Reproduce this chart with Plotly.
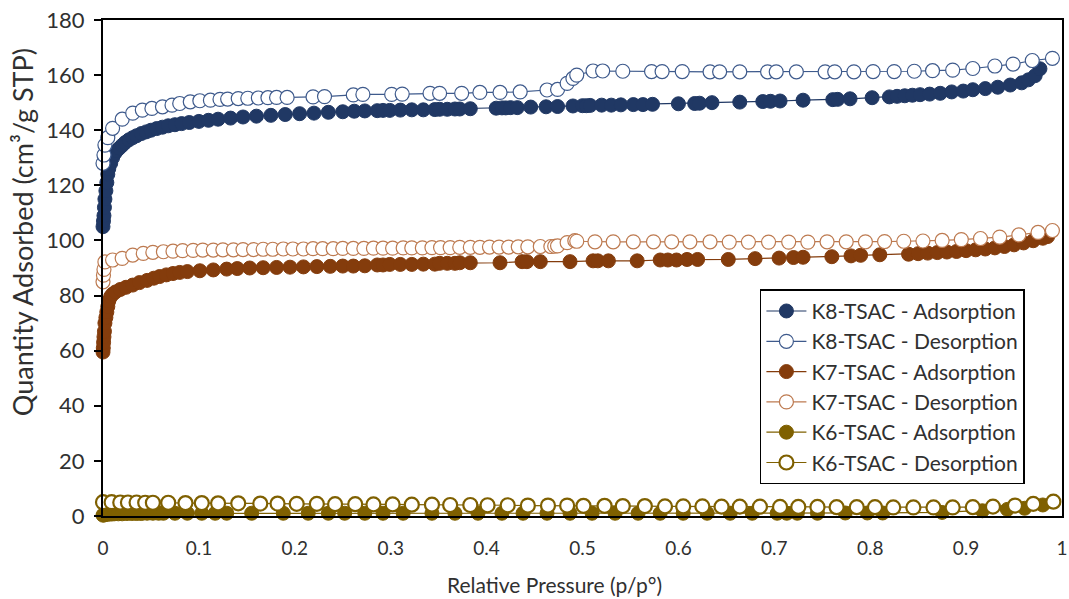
import plotly.graph_objects as go

# ---------------- data ----------------
k8_ads_x = [0.000, 0.0005, 0.001, 0.0015, 0.002, 0.003, 0.004, 0.005, 0.006, 0.008,
            0.010, 0.012, 0.014, 0.017, 0.020, 0.023, 0.027, 0.031, 0.035, 0.040,
            0.045, 0.050, 0.056, 0.062, 0.068, 0.075, 0.082, 0.090, 0.100, 0.110,
            0.120, 0.133, 0.146, 0.160, 0.175, 0.190, 0.205, 0.220, 0.235, 0.250,
            0.262, 0.273, 0.286, 0.292, 0.299, 0.310, 0.322, 0.334, 0.346, 0.351,
            0.359, 0.367, 0.372, 0.383, 0.410, 0.416, 0.420, 0.425, 0.432, 0.446,
            0.462, 0.474, 0.490, 0.500, 0.504, 0.508, 0.520, 0.530, 0.540, 0.553,
            0.563, 0.573, 0.600, 0.617, 0.622, 0.635, 0.664, 0.688, 0.696, 0.706,
            0.730, 0.761, 0.766, 0.779, 0.802, 0.820, 0.828, 0.836, 0.844, 0.852,
            0.862, 0.873, 0.885, 0.897, 0.907, 0.920, 0.933, 0.946, 0.958, 0.965,
            0.972, 0.977]
k8_ads_y = [105, 107, 109, 112, 115, 118, 121, 124, 126, 128,
            130, 131.5, 132.5, 133.5, 134.5, 135.5, 136.5, 137.3, 138, 138.8,
            139.4, 140, 140.6, 141.1, 141.6, 142, 142.4, 142.8, 143.2, 143.6,
            144, 144.4, 144.8, 145.1, 145.4, 145.7, 146, 146.2, 146.5, 146.7,
            146.9, 147, 147.1, 147.2, 147.2, 147.3, 147.4, 147.4, 147.5, 147.6,
            147.6, 147.7, 147.7, 147.8, 148.0, 148.1, 148.1, 148.2, 148.2, 148.4,
            148.5, 148.6, 148.8, 148.9, 148.9, 149.0, 149.1, 149.1, 149.2, 149.3,
            149.3, 149.4, 149.6, 149.7, 149.8, 150.0, 150.2, 150.4, 150.5, 150.6,
            150.9, 151.1, 151.2, 151.4, 151.8, 152.1, 152.3, 152.5, 152.7, 152.9,
            153.1, 153.4, 153.9, 154.2, 154.7, 155.1, 155.6, 156.4, 157.2, 158.3,
            159.8, 162.3]

k8_des_x = [0.000, 0.001, 0.002, 0.005, 0.010, 0.020, 0.031, 0.041, 0.051, 0.062,
            0.072, 0.080, 0.091, 0.101, 0.112, 0.122, 0.130, 0.141, 0.151, 0.162,
            0.172, 0.181, 0.192, 0.219, 0.231, 0.261, 0.271, 0.301, 0.312, 0.341,
            0.351, 0.374, 0.393, 0.414, 0.435, 0.463, 0.474, 0.484, 0.490, 0.494,
            0.511, 0.521, 0.542, 0.572, 0.583, 0.604, 0.633, 0.643, 0.664, 0.693,
            0.702, 0.723, 0.753, 0.763, 0.783, 0.803, 0.825, 0.846, 0.865, 0.886,
            0.907, 0.930, 0.949, 0.969, 0.990]
k8_des_y = [128, 131, 134.6, 137.3, 140.7, 144, 146.2, 147.3, 147.9, 148.5,
            149.1, 149.7, 150.3, 150.7, 150.9, 151.2, 151.3, 151.5, 151.6, 151.7,
            151.8, 151.9, 151.9, 152.1, 152.2, 152.8, 153.0, 153.0, 153.1, 153.4,
            153.4, 153.4, 153.7, 153.7, 153.9, 154.6, 154.8, 157.0, 158.8, 160.0,
            161.5, 161.5, 161.4, 161.3, 161.3, 161.3, 161.2, 161.2, 161.2, 161.2,
            161.2, 161.2, 161.2, 161.2, 161.2, 161.3, 161.3, 161.4, 161.6, 161.8,
            162.4, 163.3, 164.0, 165.3, 166.1]

k7_ads_x = [0.000, 0.0003, 0.0006, 0.001, 0.0015, 0.002, 0.003, 0.004, 0.005, 0.006,
            0.008, 0.010, 0.013, 0.018, 0.024, 0.031, 0.038, 0.046, 0.053, 0.059,
            0.066, 0.073, 0.080, 0.088, 0.101, 0.115, 0.129, 0.140, 0.153, 0.167,
            0.181, 0.195, 0.209, 0.223, 0.237, 0.250, 0.261, 0.273, 0.286, 0.292,
            0.299, 0.310, 0.322, 0.334, 0.346, 0.351, 0.359, 0.367, 0.372, 0.383,
            0.414, 0.437, 0.442, 0.456, 0.487, 0.511, 0.516, 0.527, 0.557, 0.581,
            0.589, 0.598, 0.609, 0.620, 0.652, 0.680, 0.705, 0.720, 0.730, 0.760,
            0.780, 0.790, 0.810, 0.840, 0.850, 0.860, 0.870, 0.880, 0.890, 0.900,
            0.910, 0.920, 0.930, 0.940, 0.950, 0.960, 0.970, 0.980, 0.985]
k7_ads_y = [59.5, 61, 63, 65, 67, 70, 72, 74, 76, 78,
            79.6, 80.5, 81.3, 82.2, 83.0, 83.8, 84.7, 85.5, 86.3, 86.9,
            87.5, 88.0, 88.4, 88.7, 89.0, 89.3, 89.6, 89.8, 90.0, 90.1,
            90.2, 90.3, 90.4, 90.5, 90.6, 90.7, 90.7, 90.8, 91.1, 91.1,
            91.3, 91.3, 91.3, 91.4, 91.4, 91.7, 91.7, 91.7, 91.9, 91.9,
            91.9, 92.3, 92.3, 92.3, 92.3, 92.6, 92.6, 92.6, 92.6, 92.9,
            92.9, 92.9, 93.1, 93.1, 93.1, 93.4, 93.6, 93.8, 93.9, 94.1,
            94.4, 94.6, 94.8, 95.0, 95.2, 95.4, 95.6, 95.8, 96.0, 96.3,
            96.6, 96.9, 97.3, 97.8, 98.4, 99.1, 99.9, 100.8, 101.4]

k7_des_x = [0.000, 0.0005, 0.001, 0.002, 0.010, 0.020, 0.031, 0.042, 0.052, 0.063,
            0.073, 0.083, 0.094, 0.104, 0.115, 0.125, 0.136, 0.146, 0.157, 0.167,
            0.177, 0.188, 0.198, 0.209, 0.219, 0.229, 0.240, 0.250, 0.261, 0.272,
            0.282, 0.292, 0.302, 0.313, 0.322, 0.333, 0.343, 0.352, 0.362, 0.372,
            0.383, 0.393, 0.403, 0.413, 0.423, 0.433, 0.443, 0.456, 0.467, 0.471,
            0.474, 0.484, 0.492, 0.494, 0.513, 0.532, 0.553, 0.574, 0.593, 0.612,
            0.633, 0.653, 0.673, 0.694, 0.715, 0.735, 0.755, 0.775, 0.795, 0.815,
            0.835, 0.855, 0.875, 0.895, 0.915, 0.935, 0.955, 0.975, 0.990]
k7_des_y = [85.0, 87.4, 89.5, 92.2, 92.9, 93.5, 94.7, 95.3, 95.7, 95.9,
            96.1, 96.3, 96.4, 96.5, 96.5, 96.6, 96.6, 96.7, 96.7, 96.8,
            96.8, 96.9, 96.9, 96.9, 97.0, 97.0, 97.0, 97.1, 97.1, 97.1,
            97.2, 97.2, 97.2, 97.3, 97.3, 97.3, 97.4, 97.4, 97.4, 97.5,
            97.5, 97.5, 97.6, 97.6, 97.6, 97.7, 97.7, 97.8, 97.8, 97.9,
            98.0, 99.2, 99.9, 99.7, 99.5, 99.5, 99.5, 99.5, 99.5, 99.5,
            99.5, 99.4, 99.4, 99.4, 99.4, 99.4, 99.5, 99.5, 99.5, 99.6,
            99.7, 99.8, 100.0, 100.3, 100.7, 101.2, 102.0, 102.9, 103.6]

k6_ads_x = [0.000, 0.001, 0.002, 0.004, 0.006, 0.009, 0.012, 0.016, 0.020, 0.025,
            0.030, 0.035, 0.040, 0.046, 0.052, 0.058, 0.063, 0.075, 0.088, 0.103,
            0.117, 0.129, 0.155, 0.188, 0.214, 0.235, 0.252, 0.273, 0.292, 0.313,
            0.343, 0.367, 0.391, 0.416, 0.438, 0.463, 0.487, 0.510, 0.534, 0.558,
            0.581, 0.605, 0.630, 0.654, 0.677, 0.703, 0.713, 0.724, 0.745, 0.774,
            0.797, 0.813, 0.875, 0.917, 0.943, 0.961, 0.980]
k6_ads_y = [0.3, 0.4, 0.5, 0.6, 0.7, 0.7, 0.8, 0.8, 0.8, 0.9,
            0.9, 0.9, 0.9, 1.0, 1.0, 1.0, 1.0, 1.0, 1.0, 1.0,
            1.0, 1.0, 1.0, 1.0, 1.0, 1.0, 1.0, 1.0, 1.0, 1.0,
            1.0, 1.0, 1.0, 1.0, 1.0, 1.0, 1.0, 1.0, 1.0, 1.0,
            1.0, 1.0, 1.0, 1.0, 1.0, 1.0, 1.0, 1.0, 1.0, 1.1,
            1.1, 1.1, 1.3, 1.9, 2.4, 2.8, 4.0]

k6_des_x = [0.000, 0.009, 0.018, 0.026, 0.035, 0.044, 0.052, 0.068, 0.086, 0.103,
            0.120, 0.141, 0.164, 0.182, 0.202, 0.223, 0.242, 0.263, 0.282, 0.302,
            0.322, 0.343, 0.362, 0.383, 0.401, 0.422, 0.443, 0.464, 0.484, 0.501,
            0.523, 0.542, 0.565, 0.586, 0.605, 0.625, 0.645, 0.664, 0.685, 0.706,
            0.725, 0.745, 0.765, 0.786, 0.805, 0.824, 0.845, 0.866, 0.886, 0.907,
            0.928, 0.951, 0.970, 0.991]
k6_des_y = [5.0, 5.0, 4.9, 4.9, 4.9, 4.8, 4.8, 4.8, 4.7, 4.7,
            4.6, 4.6, 4.5, 4.5, 4.4, 4.4, 4.3, 4.3, 4.2, 4.2,
            4.1, 4.1, 4.0, 4.0, 3.9, 3.9, 3.8, 3.8, 3.8, 3.7,
            3.7, 3.6, 3.6, 3.5, 3.5, 3.5, 3.4, 3.4, 3.4, 3.3,
            3.3, 3.3, 3.2, 3.2, 3.2, 3.1, 3.1, 3.1, 3.1, 3.2,
            3.4, 3.8, 4.4, 5.2]

x_ticks = [0, 0.1, 0.2, 0.3, 0.4, 0.5, 0.6, 0.7, 0.8, 0.9, 1]
x_tick_labels = ["0", "0.1", "0.2", "0.3", "0.4", "0.5", "0.6", "0.7", "0.8", "0.9", "1"]
y_ticks = [0, 20, 40, 60, 80, 100, 120, 140, 160, 180]
x_title = "Relative Pressure (p/p°)"
y_title = "Quantity Adsorbed (cm³/g STP)"

series = [
    ("K8-TSAC - Adsorption", k8_ads_x, k8_ads_y, "#203864", "#203864", "#203864", 1.0),
    ("K8-TSAC - Desorption", k8_des_x, k8_des_y, "#ffffff", "#3E5A8C", "#3E5A8C", 1.2),
    ("K7-TSAC - Adsorption", k7_ads_x, k7_ads_y, "#843C0C", "#843C0C", "#843C0C", 1.0),
    ("K7-TSAC - Desorption", k7_des_x, k7_des_y, "#ffffff", "#BD7A50", "#BD7A50", 1.2),
    ("K6-TSAC - Adsorption", k6_ads_x, k6_ads_y, "#7F6000", "#7F6000", "#7F6000", 1.0),
    ("K6-TSAC - Desorption", k6_des_x, k6_des_y, "#ffffff", "#7F6000", "#7F6000", 2.2),
]

FONT = "Lato, 'Open Sans', sans-serif"
TXT = "#303030"

fig = go.Figure()
for i, (name, xs, ys, fill, edge, lcol, lw) in enumerate(series):
    assert len(xs) == len(ys), name
    fig.add_trace(go.Scatter(
        x=xs, y=ys, name=name, mode="lines+markers",
        legendgroup=str(i),
        line=dict(color=lcol, width=1.2),
        marker=dict(size=14, color=fill, line=dict(color=edge, width=lw)),
        cliponaxis=False,
    ))

fig.update_layout(
    width=1069, height=599,
    margin=dict(l=103, r=7, t=20, b=83),
    paper_bgcolor="white", plot_bgcolor="white",
    font=dict(family=FONT, size=20, color=TXT),
    showlegend=True,
    legend=dict(
        x=0.685, y=0.457, xanchor="left", yanchor="top",
        bgcolor="white", bordercolor="black", borderwidth=1.5,
        font=dict(family=FONT, size=21, color=TXT),
        tracegroupgap=0, itemwidth=40,
    ),
    annotations=[
        dict(text=x_title, xref="paper", yref="paper", x=0.471, y=-0.139,
             xanchor="center", yanchor="middle", showarrow=False,
             font=dict(family=FONT, size=21, color=TXT)),
        dict(text=y_title, xref="paper", yref="paper", x=-0.084, y=0.573,
             xanchor="center", yanchor="middle", showarrow=False, textangle=-90,
             font=dict(family=FONT, size=27, color=TXT)),
    ],
)
fig.update_xaxes(
    range=[0, 1], tickvals=x_ticks, ticktext=x_tick_labels,
    showgrid=False, zeroline=False, automargin=False,
    showline=True, linecolor="black", linewidth=2, mirror=True,
    ticks="outside", ticklen=14, tickcolor="rgba(0,0,0,0)",
    ticklabeloverflow="allow",
    tickfont=dict(family=FONT, size=19, color=TXT),
)
fig.update_yaxes(
    range=[0, 180], tickvals=y_ticks,
    showgrid=False, zeroline=False, automargin=False,
    showline=True, linecolor="black", linewidth=2, mirror=True,
    ticks="outside", ticklen=7, tickwidth=2, tickcolor="black",
    ticklabeloverflow="allow", ticklabelstandoff=5,
    tickfont=dict(family=FONT, size=22, color=TXT),
)

# remove the default 8 px page margin so the 1069x599 figure fills the window exactly
fig.write_html("out.html",
               config={"displayModeBar": False},
               post_script="document.body.style.margin='0';document.body.style.overflow='hidden';")
